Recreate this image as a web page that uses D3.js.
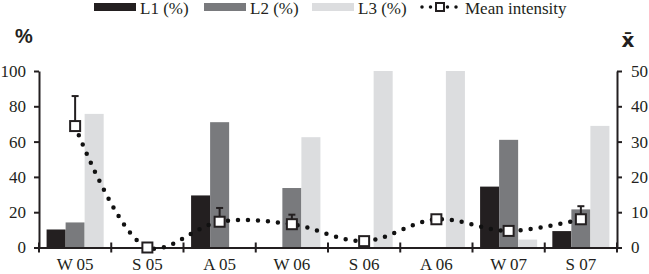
<!DOCTYPE html>
<html>
<head>
<meta charset="utf-8">
<script src="https://cdn.jsdelivr.net/npm/d3@7"></script>
<style>
  body { margin: 0; background: #fff; }
  svg { display: block; }
  text { font-family: "Liberation Serif", "Times New Roman", serif; fill: #231f20; }
</style>
</head>
<body>
<svg id="chart" width="649" height="274"></svg>
<script>
// seasons
var cats = ["W 05", "S 05", "A 05", "W 06", "S 06", "A 06", "W 07", "S 07"];
// percentages per level
var l1 = [10.2, 0, 29.5, 0, 0, 0, 34.5, 9.3];
var l2 = [14.2, 0, 71, 33.7, 0, 0, 61, 21.6];
var l3 = [75.7, 0, 0, 62.5, 100, 100, 4.5, 68.9];
// mean intensity (right axis) and upper error
var mean = [34.4, 0, 7.3, 6.6, 1.8, 8.0, 4.7, 8.0];
var errTop = [42.9, null, 11.2, 9.3, null, null, null, 11.7];
var leftTicks = [0, 20, 40, 60, 80, 100];
var rightTicks = [0, 10, 20, 30, 40, 50];
var series = ["L1 (%)", "L2 (%)", "L3 (%)"];
var colors = ["#231f20", "#797a7d", "#dcdddf"];

var svg = d3.select("#chart");

var x = d3.scaleBand().domain(cats).range([39, 617]).paddingInner(0.21).paddingOuter(0.105);
var x1 = d3.scaleBand().domain(series).range([0, x.bandwidth()]);
var yL = d3.scaleLinear().domain([0, 100]).range([247.5, 71]);
var yR = d3.scaleLinear().domain([0, 50]).range([247.5, 71]);

// bars
var rows = cats.map(function(c, i) { return {cat: c, vals: [l1[i], l2[i], l3[i]]}; });
svg.append("g").selectAll("g")
  .data(rows)
  .enter().append("g")
  .attr("transform", function(d) { return "translate(" + x(d.cat) + ",0)"; })
  .selectAll("rect")
  .data(function(d) { return d.vals.map(function(v, j) { return {s: series[j], v: v, c: colors[j]}; }); })
  .enter().append("rect")
  .attr("x", function(d) { return x1(d.s); })
  .attr("width", x1.bandwidth())
  .attr("y", function(d) { return yL(d.v); })
  .attr("height", function(d) { return yL(0) - yL(d.v); })
  .style("fill", function(d) { return d.c; });

// axes
var gl = svg.append("g").attr("transform", "translate(39,0)")
  .call(d3.axisLeft(yL).tickValues(leftTicks).tickSize(5).tickSizeOuter(0).tickPadding(8));
var gr = svg.append("g").attr("transform", "translate(617,0)")
  .call(d3.axisRight(yR).tickValues(rightTicks).tickSize(5).tickSizeOuter(0).tickPadding(9));
var gx = svg.append("g").attr("transform", "translate(0,247.5)")
  .call(d3.axisBottom(x).tickSize(0).tickPadding(10));
[gl, gr, gx].forEach(function(g) {
  g.selectAll("path").style("stroke", "#231f20").style("stroke-width", 2);
  g.selectAll("line").style("stroke", "#231f20").style("stroke-width", 2);
  g.selectAll("text").style("font-family", "Liberation Serif").style("font-size", "17px").style("fill", "#231f20");
});
gx.selectAll("text").attr("dy", "0.71em");

// cross ticks on category borders
var half = (x.step() - x.bandwidth()) / 2;
var borders = cats.map(function(c) { return x(c) - half; });
borders.push(x(cats[cats.length - 1]) + x.bandwidth() + half);
svg.append("g").selectAll("line")
  .data(borders)
  .enter().append("line")
  .attr("x1", function(d) { return d; }).attr("x2", function(d) { return d; })
  .attr("y1", 242.5).attr("y2", 252.5)
  .style("stroke", "#231f20").style("stroke-width", 2);

// mean intensity line
var pts = cats.map(function(c, i) { return {cat: c, m: mean[i], e: errTop[i]}; });
var cx = function(d) { return x(d.cat) + x.bandwidth() / 2; };
var line = d3.line().x(cx).y(function(d) { return yR(d.m); }).curve(d3.curveCatmullRom.alpha(0.5));
svg.append("path")
  .datum(pts)
  .attr("d", line)
  .style("fill", "none")
  .style("stroke", "#111")
  .style("stroke-width", 4.5)
  .style("stroke-linecap", "round")
  .style("stroke-dasharray", "0 10");

// error bars
var eb = svg.append("g").selectAll("g")
  .data(pts.filter(function(d) { return d.e != null; }))
  .enter().append("g");
eb.append("line")
  .attr("x1", cx).attr("x2", cx)
  .attr("y1", function(d) { return yR(d.m); })
  .attr("y2", function(d) { return yR(d.e); })
  .style("stroke", "#231f20").style("stroke-width", 2);
eb.append("line")
  .attr("x1", function(d) { return cx(d) - 3.5; }).attr("x2", function(d) { return cx(d) + 3.5; })
  .attr("y1", function(d) { return yR(d.e); })
  .attr("y2", function(d) { return yR(d.e); })
  .style("stroke", "#231f20").style("stroke-width", 2);

// markers
svg.append("g").selectAll("rect")
  .data(pts)
  .enter().append("rect")
  .attr("x", function(d) { return cx(d) - 5; })
  .attr("y", function(d) { return yR(d.m) - 5; })
  .attr("width", 10).attr("height", 10)
  .style("fill", "#fff")
  .style("stroke", "#231f20")
  .style("stroke-width", 2);

// axis titles
svg.append("text").attr("x", 24).attr("y", 43).attr("text-anchor", "middle")
  .style("font-family", "Liberation Sans").style("font-weight", "bold").style("font-size", "20px")
  .text("%");
svg.append("text").attr("x", 628).attr("y", 47).attr("text-anchor", "middle")
  .style("font-family", "DejaVu Sans").style("font-weight", "bold").style("font-size", "20px")
  .text("x\u0304");

// legend
var legX = [94, 204, 312];
var lg = svg.append("g");
series.forEach(function(s, i) {
  lg.append("rect").attr("x", legX[i]).attr("y", 3).attr("width", 42).attr("height", 8).style("fill", colors[i]);
  lg.append("text").attr("x", legX[i] + 46).attr("y", 14).style("font-size", "17px").text(s);
});
lg.append("line").attr("x1", 422).attr("x2", 458).attr("y1", 7).attr("y2", 7)
  .style("stroke", "#111").style("stroke-width", 3.5).style("stroke-linecap", "round")
  .style("stroke-dasharray", "0 8.5");
lg.append("rect").attr("x", 436).attr("y", 3).attr("width", 8).attr("height", 8)
  .style("fill", "#fff").style("stroke", "#231f20").style("stroke-width", 2);
lg.append("text").attr("x", 465).attr("y", 14).style("font-size", "17px").text("Mean intensity");
</script>
</body>
</html>
